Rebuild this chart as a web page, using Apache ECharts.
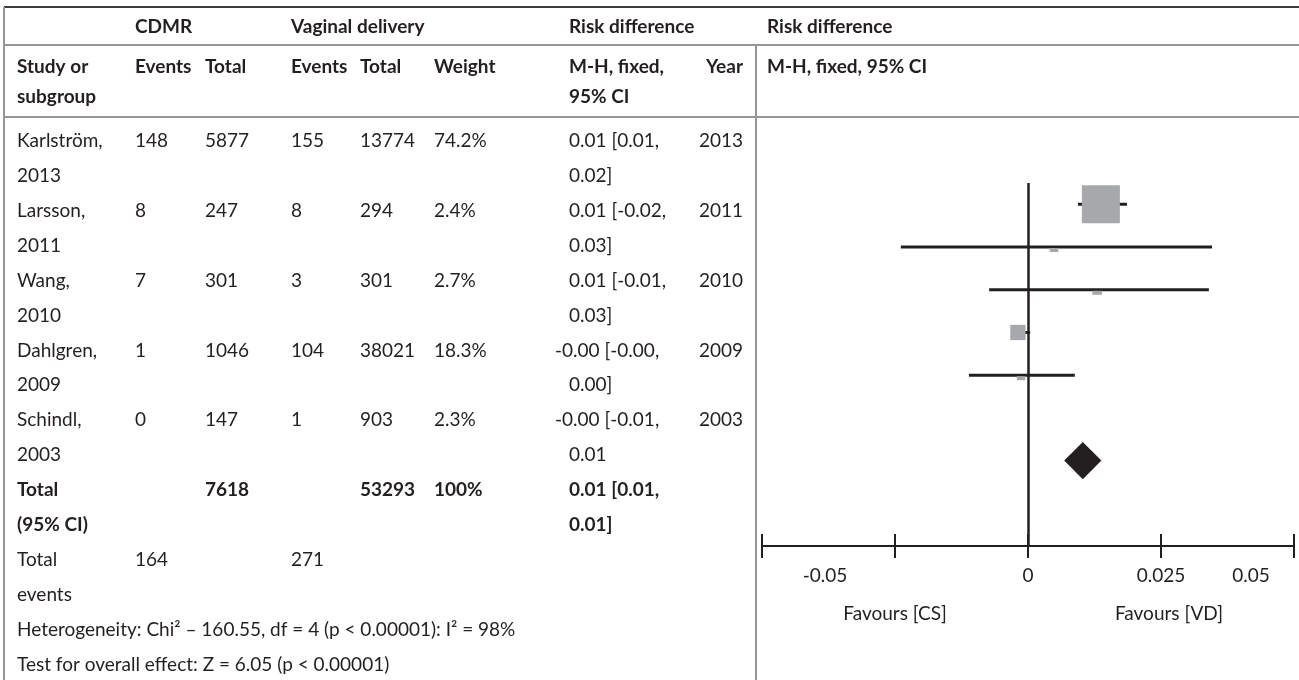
<!DOCTYPE html>
<html>
<head>
<meta charset="utf-8">
<script src="https://cdn.jsdelivr.net/npm/echarts@6/dist/echarts.min.js"></script>
<style>
  html, body { margin: 0; padding: 0; background: #fff; }
  #chart { width: 1299px; height: 680px; }
</style>
</head>
<body>
<div id="chart"></div>
<script>
// study rows
const studyNames = ['Karlström,', 'Larsson,', 'Wang,', 'Dahlgren,', 'Schindl,']
const studyYears = ['2013', '2011', '2010', '2009', '2003']
const cdmrEvents = [148, 8, 7, 1, 0]
const cdmrTotal = [5877, 247, 301, 1046, 147]
const vdEvents = [155, 8, 3, 104, 1]
const vdTotal = [13774, 294, 301, 38021, 903]
const weights = [74.2, 2.4, 2.7, 18.3, 2.3]
const rdText = [
  ['0.01 [0.01,', '0.02]'],
  ['0.01 [-0.02,', '0.03]'],
  ['0.01 [-0.01,', '0.03]'],
  ['-0.00 [-0.00,', '0.00]'],
  ['-0.00 [-0.01,', '0.01']
]

// plotted estimates
const rdPoint = [0.0137, 0.0049, 0.0130, -0.0019, -0.0013]
const rdLow = [0.0094, -0.0239, -0.0073, -0.0030, -0.0111]
const rdHigh = [0.0186, 0.0346, 0.0340, 0.0004, 0.0088]

// pooled result
const pooled = [0.0068, 0.0103, 0.0138]
const totalCounts = ['7618', '53293', '100%']
const totalRd = ['0.01 [0.01,', '0.01]']
const totalEvents = ['164', '271']
const heterogeneity = 'Heterogeneity: Chi² – 160.55, df = 4 (p < 0.00001): I² = 98%'
const overallTest = 'Test for overall effect: Z = 6.05 (p < 0.00001)'

// axis
const xTicks = [-0.05, -0.025, 0, 0.025, 0.05]
const tickLabels = ['-0.05', '', '0', '0.025', '0.05']
const favourLabels = ['', 'Favours [CS]', '', 'Favours [VD]', '']

const FONT = 'Lato, "Open Sans", sans-serif'
const FS = 19
const INK = '#231f20'
const GREY = '#969696'

// table layout
const colX = { name: 17, ce: 135, ct: 205, ve: 291, vt: 360, w: 434, rd: 569, year: 743, plot: 767 }
const rowY = i => 141 + 34.9 * i

const g = []
function txt(x, y, s, bold, align) {
  g.push({
    type: 'text', x, y,
    style: {
      text: s, fill: INK, align: align || 'left', verticalAlign: 'middle',
      font: (bold ? 'bold ' : '') + FS + 'px ' + FONT
    }
  })
}
function hline(y, x1, x2, color) {
  g.push({ type: 'line', shape: { x1, y1: y, x2, y2: y }, style: { stroke: color, lineWidth: 2 } })
}
function vline(x, y1, y2, color) {
  g.push({ type: 'line', shape: { x1: x, y1, x2: x, y2 }, style: { stroke: color, lineWidth: 2 } })
}

hline(7, 4, 1299, '#3c3c3c')
hline(45, 4, 1299, GREY)
hline(117, 4, 1299, GREY)
vline(4, 7, 680, GREY)
vline(756, 45, 680, GREY)

// header
txt(colX.ce, 27, 'CDMR', true)
txt(colX.ve, 27, 'Vaginal delivery', true)
txt(colX.rd, 27, 'Risk difference', true)
txt(colX.plot, 27, 'Risk difference', true)
txt(colX.name, 67, 'Study or', true)
txt(colX.ce, 67, 'Events', true)
txt(colX.ct, 67, 'Total', true)
txt(colX.ve, 67, 'Events', true)
txt(colX.vt, 67, 'Total', true)
txt(colX.w, 67, 'Weight', true)
txt(colX.rd, 67, 'M-H, fixed,', true)
txt(colX.year, 67, 'Year', true, 'right')
txt(colX.plot, 67, 'M-H, fixed, 95% CI', true)
txt(colX.name, 97, 'subgroup', true)
txt(colX.rd, 97, '95% CI', true)

// study rows
studyNames.forEach((name, i) => {
  const y1 = rowY(i * 2), y2 = rowY(i * 2 + 1)
  txt(colX.name, y1, name)
  txt(colX.name, y2, studyYears[i])
  txt(colX.ce, y1, String(cdmrEvents[i]))
  txt(colX.ct, y1, String(cdmrTotal[i]))
  txt(colX.ve, y1, String(vdEvents[i]))
  txt(colX.vt, y1, String(vdTotal[i]))
  txt(colX.w, y1, weights[i].toFixed(1) + '%')
  const neg = rdText[i][0].charAt(0) === '-'
  txt(neg ? colX.rd - 14 : colX.rd, y1, rdText[i][0])
  txt(colX.rd, y2, rdText[i][1])
  txt(colX.year, y1, studyYears[i], false, 'right')
})

// total rows
txt(colX.name, rowY(10), 'Total', true)
txt(colX.name, rowY(11), '(95% CI)', true)
txt(colX.ct, rowY(10), totalCounts[0], true)
txt(colX.vt, rowY(10), totalCounts[1], true)
txt(colX.w, rowY(10), totalCounts[2], true)
txt(colX.rd, rowY(10), totalRd[0], true)
txt(colX.rd, rowY(11), totalRd[1], true)
txt(colX.name, rowY(12), 'Total')
txt(colX.name, rowY(13), 'events')
txt(colX.ce, rowY(12), totalEvents[0])
txt(colX.ve, rowY(12), totalEvents[1])
txt(colX.name, rowY(14), heterogeneity)
txt(colX.name, rowY(15), overallTest)

function tickIndex(v) {
  return xTicks.findIndex(t => Math.abs(t - v) < 1e-9)
}

function boxSize(w) {
  if (w > 10) { const s = 38 * Math.pow(w / 74.2, 0.65); return [s, s, 0] }
  return [w * 3.6, 4, 3]
}

const labelText = { color: INK, fontFamily: FONT, fontSize: FS }

const chart = echarts.init(document.getElementById('chart'), null, { renderer: 'canvas' })
chart.setOption({
  animation: false,
  graphic: g,
  grid: { left: 762, right: 5, top: 183, bottom: 134 },
  xAxis: [{
    type: 'value', min: -0.05, max: 0.05, interval: 0.025, position: 'bottom',
    axisLine: { onZero: false, lineStyle: { color: INK, width: 2 } },
    axisTick: { length: 12, lineStyle: { color: INK, width: 2 } },
    splitLine: { show: false },
    axisLabel: Object.assign({
      margin: 20, showMinLabel: true, showMaxLabel: true,
      formatter: v => {
        const i = tickIndex(v)
        if (i < 0 || !tickLabels[i]) return ''
        if (i === 0) return '{l|' + tickLabels[i] + '}'
        if (i === xTicks.length - 1) return '{r|' + tickLabels[i] + '}'
        return tickLabels[i]
      },
      rich: {
        l: Object.assign({ padding: [0, 0, 0, 126] }, labelText),
        r: Object.assign({ padding: [0, 86, 0, 0] }, labelText)
      }
    }, labelText)
  }, {
    type: 'value', min: -0.05, max: 0.05, interval: 0.025, position: 'bottom',
    axisLine: { show: false, onZero: false },
    axisTick: { inside: true, length: 12, lineStyle: { color: INK, width: 2 } },
    splitLine: { show: false },
    axisLabel: Object.assign({
      margin: 58,
      formatter: v => {
        const i = tickIndex(v)
        if (i < 0 || !favourLabels[i]) return ''
        return i > 2 ? '{v|' + favourLabels[i] + '}' : favourLabels[i]
      },
      rich: { v: Object.assign({ padding: [0, 0, 0, 16] }, labelText) }
    }, labelText)
  }],
  yAxis: { type: 'value', min: -0.5, max: 8, inverse: true, show: false },
  series: [{
    type: 'custom',
    data: rdLow.map((lo, i) => [lo, rdHigh[i], i]),
    encode: { x: [0, 1], y: 2 },
    renderItem: (params, api) => {
      const a = api.coord([api.value(0), api.value(2)])
      const b = api.coord([api.value(1), api.value(2)])
      return {
        type: 'line',
        shape: { x1: a[0], y1: a[1], x2: b[0], y2: b[1] },
        style: { stroke: INK, lineWidth: 3 }
      }
    },
    markLine: {
      silent: true, symbol: 'none', label: { show: false },
      lineStyle: { color: INK, width: 2.5, type: 'solid' },
      data: [{ xAxis: 0 }]
    }
  }, {
    type: 'custom',
    data: rdPoint.map((p, i) => [p, i, weights[i]]),
    encode: { x: 0, y: 1 },
    renderItem: (params, api) => {
      const c = api.coord([api.value(0), api.value(1)])
      const s = boxSize(api.value(2))
      return {
        type: 'rect',
        shape: { x: c[0] - s[0] / 2, y: c[1] - s[1] / 2 + s[2], width: s[0], height: s[1] },
        style: { fill: '#a7a8ab' }
      }
    }
  }, {
    type: 'custom',
    data: [[pooled[0], pooled[1], pooled[2], 6]],
    encode: { x: [0, 2], y: 3 },
    renderItem: (params, api) => {
      const lo = api.coord([api.value(0), api.value(3)])
      const mid = api.coord([api.value(1), api.value(3)])
      const hi = api.coord([api.value(2), api.value(3)])
      const h = (hi[0] - lo[0]) / 2
      return {
        type: 'polygon',
        shape: { points: [lo, [mid[0], mid[1] - h], hi, [mid[0], mid[1] + h]] },
        style: { fill: INK }
      }
    }
  }]
})
</script>
</body>
</html>
